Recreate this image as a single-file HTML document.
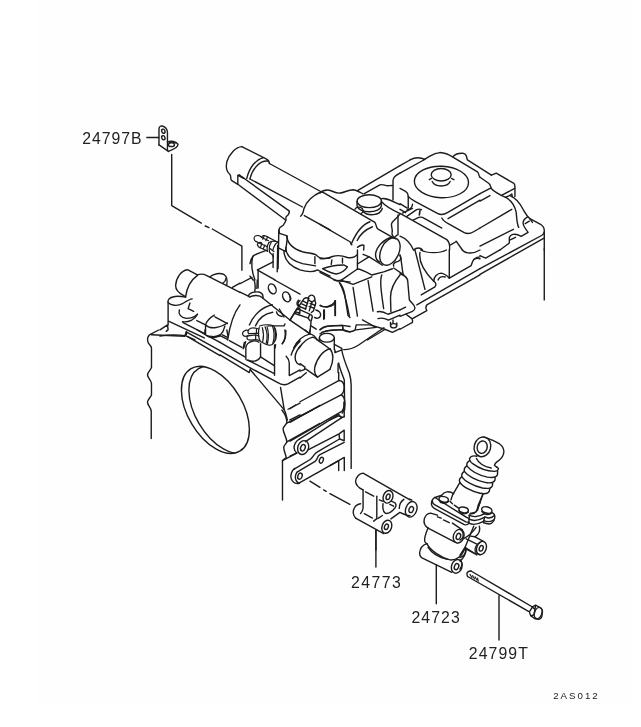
<!DOCTYPE html>
<html><head><meta charset="utf-8"><title>2AS012</title>
<style>
html,body{margin:0;padding:0;background:#fff;}
body{width:641px;height:727px;overflow:hidden;font-family:"Liberation Sans",sans-serif;}
svg{display:block;position:absolute;left:0;top:0;filter:grayscale(1);}
text{font-family:"Liberation Sans",sans-serif;stroke:none;}
</style></head><body>
<svg width="641" height="727" viewBox="0 0 641 727">
<rect x="0" y="0" width="641" height="727" fill="#ffffff"/>
<rect x="37" y="0" width="594" height="705" fill="#fefefe"/>
<g fill="none" stroke="#1c1c1c" stroke-linecap="round" stroke-linejoin="round">
<g transform="translate(140,115) scale(0.12480)" stroke-width="11.22">
<path d="M55,180 L150,180"/>
<path d="M152,240 L152,115 C152,85 175,82 195,95 C212,106 220,125 220,145 L220,285"/>
<path d="M152,240 L228,292"/>
<ellipse cx="187" cy="130" rx="13" ry="17" transform="rotate(-20 187 130)"/>
<ellipse cx="187" cy="182" rx="13" ry="17" transform="rotate(-20 187 182)"/>
<path d="M220,215 C250,205 290,210 305,235 C305,255 260,280 228,292"/>
<ellipse cx="252" cy="238" rx="24" ry="15"/>
<path d="M232,225 C245,215 270,215 282,225"/>


</g>
<g transform="translate(200,130) scale(0.12480)" stroke-width="11.22">
<path d="M335,133 C290,135 235,190 215,255 C205,300 215,335 238,355 C255,370 238,395 255,405 L303,435 L303,365 L318,360"/>
<path d="M335,133 L530,232 C545,240 556,255 556,268"/>
<path d="M505,222 C450,235 395,300 375,388"/>
<path d="M548,250 C480,240 420,310 400,392"/>
<path d="M305,363 L350,386" stroke-width="14"/>

</g>
<g transform="translate(248,228) scale(0.06238)" stroke-width="22.44">
<g stroke-width="19">
<path d="M218,152 C195,122 150,110 115,130 C88,150 92,195 125,215 L205,252"/>
<path d="M218,152 C228,122 262,110 288,130 L440,208"/>
<path d="M218,152 L330,205"/>
<path d="M262,125 L236,180 M312,148 L286,205"/>
<path d="M215,235 C185,225 158,240 150,265 C155,292 185,315 215,325 L285,358"/>
<path d="M205,252 L310,300"/>
<path d="M224,250 L198,315 M270,272 L244,338"/>
<path d="M335,235 C300,290 300,340 315,375"/>
<path d="M375,225 C335,290 335,350 350,395"/>
<path d="M335,235 C360,212 420,205 478,222"/>
<path d="M285,358 L315,375"/>
<path d="M350,395 L400,440 L405,470"/>
<path d="M440,258 L478,228"/>
<path d="M440,258 C420,290 405,320 400,350"/>
<path d="M352,330 L415,378"/>
</g>

</g>
<g transform="translate(250,190) scale(0.12480)" stroke-width="11.22">
<path d="M310,165 C318,172 318,182 305,200 C295,210 283,212 288,228 C294,245 280,255 275,268 C270,290 245,292 238,302 C230,312 232,330 235,345"/>
<path d="M560,20 C510,40 450,90 432,150 C428,175 420,200 405,210"/>
<path d="M435,205 L641,320"/>
<path d="M231,320 L225,630"/>
<path d="M222,445 L218,655"/>
<path d="M231,345 L298,368 C300,400 290,450 284,492 L231,465"/>
<path d="M295,372 C300,420 340,470 420,495 C480,510 520,505 540,530 C555,548 600,550 641,545"/>
<path d="M287,460 C285,520 330,565 420,590 L525,608"/>
<path d="M272,490 C275,560 320,610 400,640 C450,655 500,665 540,640 L641,690"/>
<path d="M520,535 L520,590"/>
<path d="M0,590 C5,560 15,540 30,525 C55,510 90,500 125,485"/>
<path d="M22,530 C10,580 12,650 40,721"/>
<path d="M60,640 L185,575"/>
<path d="M185,510 L185,620"/>
<path d="M60,640 L75,650 L200,721"/>
<path d="M0,690 L25,721"/>

</g>
<g transform="translate(320,160) scale(0.12480)" stroke-width="11.22">
<path d="M0,265 C15,250 45,238 75,242 C105,250 125,268 160,265 C195,262 225,238 265,238 C295,240 320,258 345,272"/>
<path d="M25,260 L440,500 C450,515 448,535 462,552 L585,622"/>
<path d="M0,515 L240,655 L255,680"/>
<path d="M400,495 C345,515 290,580 250,675"/>
<path d="M420,535 C360,560 320,600 298,645"/>
<ellipse cx="395" cy="330" rx="98" ry="52"/>
<path d="M297,335 L297,368 A98,52 0 0 0 492,368 L492,330"/>
<path d="M345,412 C380,450 480,450 499,388"/>
<path d="M280,395 C290,375 320,372 338,388 C350,405 345,420 330,428"/>
<path d="M300,245 L641,45"/>
<path d="M355,270 L480,200 C495,192 510,200 530,205 C550,208 565,203 582,205"/>
<path d="M641,105 C610,120 585,140 585,165 L585,320"/>
<path d="M495,310 C520,300 560,318 641,358"/>
<path d="M500,340 C520,370 570,395 641,430"/>
<path d="M641,430 C630,455 590,480 575,505 C565,530 585,555 578,580 C572,600 590,620 605,632"/>
<path d="M625,440 L625,600"/>
<path d="M300,700 C320,685 345,675 352,685 L350,721"/>

</g>
<g transform="translate(400,160) scale(0.12480)" stroke-width="11.22">
<ellipse cx="332" cy="176" rx="217" ry="126" transform="rotate(2 332 176)"/>
<ellipse cx="330" cy="118" rx="80" ry="50"/>
<path d="M258,172 C280,220 380,220 402,172"/>
<path d="M235,158 L252,148"/>
<path d="M412,148 L432,158"/>
<path d="M0,45 L80,0"/>
<path d="M0,105 L190,0"/>
<path d="M0,228 L45,252 C60,262 66,272 66,290 L66,385"/>
<path d="M66,292 C80,310 100,322 120,332 L300,428 C325,442 350,440 380,422 L641,270"/>
<path d="M0,350 L58,385"/>
<path d="M0,395 L45,422"/>
<path d="M55,402 C80,395 100,380 100,355"/>
<path d="M20,425 L100,388"/>
<path d="M55,452 L130,400 C145,392 160,392 172,398"/>
<path d="M160,405 L155,440" stroke-width="13"/>
<path d="M105,482 L150,460 C165,455 180,458 195,467 L335,545"/>
<path d="M0,428 L375,638 C395,655 402,680 397,721"/>
<path d="M335,465 C345,485 365,500 390,512 L515,582 C540,595 565,590 590,575 L641,545"/>
<path d="M385,470 L641,322"/>
<path d="M0,610 C40,625 85,670 108,721"/>
<path d="M405,680 L448,655"/>
<path d="M450,650 L500,721"/>
<path d="M110,721 C130,700 165,700 180,721"/>

</g>
<g transform="translate(480,160) scale(0.12480)" stroke-width="11.22">
<path d="M92,122 L130,105 L272,188 C280,195 280,205 280,215 L280,292"/>
<path d="M0,138 L72,188 C85,200 85,215 92,230 C100,245 130,262 170,284 L205,300"/>
<path d="M172,283 L278,228"/>
<path d="M0,270 L85,225"/>
<path d="M0,330 L80,285"/>
<path d="M205,298 C225,290 245,285 255,272 L258,292"/>
<path d="M210,302 C250,325 280,370 290,420 C295,470 295,510 310,540"/>
<path d="M240,285 C290,305 320,345 345,395 C365,430 380,455 400,470 L485,515 C505,528 515,545 515,565 L515,721"/>
<path d="M0,545 L255,395"/>
<path d="M0,690 L268,555"/>
<path d="M382,455 C355,470 340,495 348,520 C355,545 375,560 385,580 L330,612 C310,600 290,592 265,596 C245,602 232,620 235,640 L235,665 L160,721"/>
<path d="M362,510 L395,490"/>
<path d="M400,472 L420,500"/>
<path d="M242,640 L285,620"/>

</g>
<g transform="translate(360,130) scale(0.12480)" stroke-width="11.22">
<path d="M400,240 C440,218 485,218 520,235"/>
<path d="M510,240 L560,210 C590,192 615,183 641,181"/>

</g>
<g transform="translate(440,130) scale(0.12480)" stroke-width="11.22">
<path d="M0,180 C40,182 70,195 100,215 L300,335 C312,345 308,365 320,378"/>
<path d="M105,212 C120,195 150,185 180,186 C200,188 212,200 214,220 L220,240 L412,362"/>

</g>
<g transform="translate(320,250) scale(0.12480)" stroke-width="11.22">
<path d="M0,68 C30,75 60,70 100,52 C140,40 180,45 220,60 C250,65 285,55 300,35"/>
<path d="M300,0 L300,150"/>
<path d="M95,80 L90,115"/>
<path d="M180,65 L180,105"/>
<path d="M20,150 C60,135 120,122 190,120 L220,135 C200,165 170,185 130,192 C100,192 60,172 20,150 Z"/>
<path d="M0,180 L130,245 C150,250 165,245 180,235 L300,152"/>
<path d="M300,152 C330,152 370,175 415,200 L510,175 L580,150"/>
<path d="M300,112 L392,55"/>
<path d="M345,35 L395,55 L500,122"/>
<path d="M175,245 L265,275 L415,215"/>
<path d="M155,262 C185,310 215,420 235,530"/>
<path d="M265,300 L300,530"/>
<path d="M385,245 L425,490"/>
<path d="M495,200 C480,240 485,300 510,470"/>
<path d="M641,200 C590,260 565,320 565,380 L568,495"/>
<path d="M0,445 C40,465 90,455 115,420 L120,405 L120,525"/>
<path d="M35,480 L35,550"/>
<path d="M0,640 C30,615 60,608 100,606 L180,605 L185,640 C210,660 260,660 282,640 L290,600 L400,600 L520,635 L580,660 L641,630"/>
<path d="M0,672 C30,650 60,642 100,640 L182,640"/>
<path d="M288,640 L450,620"/>
<path d="M340,560 L440,615"/>
<path d="M380,721 L520,637"/>
<path d="M460,495 C490,488 520,500 545,515 L641,480"/>
<path d="M465,550 C495,540 525,550 548,562 L641,522"/>
<ellipse cx="590" cy="607" rx="25" ry="17"/>
<path d="M565,600 L565,580 M615,600 L615,585"/>
<path d="M585,560 L585,588"/>

</g>
<g transform="translate(400,250) scale(0.12480)" stroke-width="11.22">
<path d="M120,0 L200,315"/>
<path d="M160,20 C150,80 180,160 270,250"/>
<path d="M165,0 C220,28 320,28 372,0"/>
<path d="M395,0 L395,225"/>
<path d="M270,250 C270,215 300,185 330,185 C360,188 380,210 395,225"/>
<path d="M305,240 C315,215 340,210 362,216"/>
<path d="M270,250 C290,262 292,280 280,295 L170,360"/>
<path d="M395,225 L570,125 C580,100 580,85 595,72 C610,60 625,55 641,55"/>
<path d="M590,78 C610,65 625,65 641,70"/>
<path d="M500,0 C530,35 590,30 641,0"/>
<path d="M135,440 L641,150"/>
<path d="M100,550 L215,485 C205,470 205,455 215,440 L641,200"/>
<path d="M0,40 C8,55 10,70 10,90 L25,200"/>
<path d="M0,190 C30,200 60,215 62,250 L75,400 C90,425 120,440 120,465 C118,480 110,488 100,492 L0,532"/>
<path d="M0,480 L45,458"/>
<path d="M48,515 L95,550 C102,560 102,570 100,580 L0,635"/>

</g>
<g transform="translate(350,215) scale(0.12480)" stroke-width="11.22">
<ellipse cx="320" cy="293" rx="72" ry="116" transform="rotate(25 320 293)"/>
<path d="M332,178 C270,195 215,250 205,310 C203,340 215,365 238,378"/>
<path d="M350,410 C340,390 360,378 385,372 C405,365 412,350 400,322"/>
<path d="M350,425 L430,480"/>
<path d="M378,160 L350,185"/>

</g>
<g transform="translate(480,230) scale(0.12480)" stroke-width="11.22">
<path d="M515,150 L515,560"/>
<path d="M0,310 L497,42 C508,35 514,28 515,15"/>
<path d="M0,355 L513,65"/>
<path d="M160,160 L45,225 L0,205"/>

</g>
<g transform="translate(160,250) scale(0.12480)" stroke-width="11.22">
<path d="M300,200 L220,158 C170,165 130,220 125,285 C125,320 150,345 190,365 L205,375"/>
<path d="M300,203 C255,235 215,300 205,375"/>
<path d="M300,200 C320,192 350,192 375,205 L641,340"/>
<path d="M400,215 C430,190 480,180 515,198 C535,212 542,240 535,280"/>
<path d="M505,265 C520,255 528,240 530,225"/>
<path d="M580,300 L641,265"/>
<path d="M205,378 C160,368 100,368 72,392 C62,405 62,415 66,422 C85,445 140,452 180,430 C210,412 235,395 258,392"/>
<path d="M65,420 L65,600"/>
<path d="M240,425 L225,470 L270,492"/>
<path d="M155,480 C145,515 165,540 210,548 C250,548 280,535 300,515"/>
<path d="M180,575 C230,580 280,560 300,515"/>
<path d="M68,570 L355,705"/>
<path d="M185,582 L362,672"/>
<path d="M212,690 L280,721"/>
<path d="M295,565 L365,600 L365,680 C395,705 450,705 485,680 C505,660 515,630 520,610"/>
<path d="M365,600 C375,565 405,540 435,522"/>
<path d="M440,535 L540,590"/>
<path d="M365,600 C400,635 470,630 540,585"/>
<path d="M430,702 L480,690"/>
<path d="M641,440 C595,500 560,600 542,721"/>
<path d="M500,680 L540,700"/>
<path d="M0,640 L60,600 L65,638 L50,652"/>
<path d="M0,690 C60,680 140,678 200,686 L210,660"/>

</g>
<g transform="translate(240,318) scale(0.07837)" stroke-width="17.86">
<g stroke-width="15.5">
<path d="M110,160 C90,152 65,158 50,168 C30,182 28,205 40,220 C55,235 80,235 100,228"/>
<path d="M110,200 C100,185 102,160 115,145 C130,128 165,122 195,128 L240,140"/>
<path d="M110,200 L240,195"/>
<path d="M100,228 C85,240 85,262 100,275 C120,288 160,282 200,276 L248,286"/>
<path d="M100,228 L200,216 L242,230"/>
<path d="M210,135 L210,198 M200,217 L200,275"/>
<path d="M245,120 C230,180 235,250 258,298"/>
<path d="M285,122 C302,180 302,250 290,302"/>
<path d="M320,112 C350,180 350,260 335,322"/>
<path d="M250,102 C280,92 320,86 345,86 C380,86 410,90 425,98 C445,120 460,160 465,210 C465,250 455,285 440,305 C425,330 405,345 385,348 C350,345 300,325 260,300"/>
<path d="M345,110 C365,170 365,260 350,330"/>
<path d="M415,105 C440,170 440,250 420,322"/>
<path d="M440,120 C455,170 455,240 445,290"/>
</g>

</g>
<g transform="translate(240,280) scale(0.09361)" stroke-width="14.96">
<path d="M0,130 L95,175"/>
<path d="M90,172 C95,140 150,122 200,128 C235,135 250,160 245,195"/>
<path d="M100,182 C140,158 210,158 240,190"/>
<path d="M150,0 C165,40 165,80 158,122"/>
<path d="M185,0 L180,90"/>
<path d="M0,40 L128,-28"/>
<ellipse cx="345" cy="95" rx="38" ry="56" transform="rotate(-25 345 95)"/>
<ellipse cx="497" cy="180" rx="38" ry="56" transform="rotate(-25 497 180)"/>
<path d="M370,0 L641,150"/>
<path d="M245,195 L534,428"/>
<path d="M100,480 C140,380 230,290 345,265"/>
<path d="M165,490 C195,420 260,360 350,345"/>
<path d="M390,340 C395,365 420,385 450,390"/>
<path d="M420,310 L470,395"/>
<path d="M536,428 L600,320 L641,300"/>
<path d="M590,340 L641,352"/>
<path d="M641,220 C615,235 610,265 641,285"/>
<path d="M300,490 L470,490 L480,470"/>
<path d="M490,540 C492,600 480,650 450,682"/>
<path d="M575,726 C590,690 615,660 641,640"/>
<path d="M60,660 L40,726"/>
<path d="M380,690 L375,726"/>

</g>
<g transform="translate(290,280) scale(0.09361)" stroke-width="14.96">
<path d="M195,205 C195,175 215,160 235,162 C258,168 268,190 265,218"/>
<path d="M75,310 L150,200 C165,188 185,188 200,200 L195,215 L235,235 L265,215 L275,250 L250,330 L228,348"/>
<path d="M140,225 L188,250 M125,255 L178,280 M105,285 L168,310 M215,250 L268,270 M205,282 L258,302"/>
<path d="M200,200 L165,312"/>
<path d="M235,235 L205,330"/>
<path d="M75,310 L0,426"/>
<path d="M75,310 L110,320 L210,365 C230,372 240,380 238,395 L225,440 L212,572"/>
<path d="M45,355 L190,405 L215,435"/>
<path d="M110,322 L95,368 M210,370 L195,405"/>
<path d="M0,428 L215,575"/>
<path d="M90,215 C72,235 72,258 85,275"/>
<path d="M275,320 C310,325 335,355 325,385 C315,410 285,415 262,400"/>
<path d="M0,180 L8,200 L0,215" stroke-width="18"/>
<path d="M325,270 C360,295 430,295 470,262 C482,250 486,235 485,220 L485,380"/>
<path d="M360,320 L360,420"/>
<path d="M530,30 C560,60 575,100 585,160 L620,380 L641,400"/>
<path d="M470,0 C520,12 580,15 641,20"/>
<path d="M225,490 L280,525"/>
<path d="M320,530 C340,510 360,498 390,494 L560,485 L641,497"/>
<path d="M340,560 C380,545 440,535 560,530 C590,535 615,548 641,556"/>
<path d="M562,490 L565,530"/>
<path d="M40,726 C80,640 150,590 215,575 C250,585 275,610 290,640"/>
<path d="M100,726 C135,665 190,622 245,610 C262,615 280,628 300,645 L427,737"/>

</g>
<g transform="translate(140,330) scale(0.12480)" stroke-width="11.22">
<path d="M150,0 L75,40 C60,55 58,80 65,100 C72,120 92,125 92,145 L92,300 C85,320 62,335 60,360 C62,385 90,400 92,430 L92,520 C85,540 62,555 60,580 C62,605 88,620 90,650 L90,870"/>
<path d="M90,38 L360,50 C372,42 376,28 372,12"/>
<path d="M370,15 L641,165"/>
<path d="M385,55 L641,205"/>
<path d="M460,0 L520,35 L520,0"/>
<path d="M540,45 L641,100"/>
<path d="M560,50 C590,58 615,52 641,40"/>

</g>
<g transform="translate(0,0) scale(1.00000)" stroke-width="1.40">
<clipPath id="cpE"><ellipse cx="215.4" cy="409.9" rx="47.9" ry="27.5" transform="rotate(59.4 215.4 409.9)"/></clipPath>
<ellipse cx="215.4" cy="409.9" rx="47.9" ry="27.5" transform="rotate(59.4 215.4 409.9)"/>
<g clip-path="url(#cpE)"><ellipse cx="222.9" cy="409.9" rx="47.9" ry="27.5" transform="rotate(59.4 222.9 409.9)"/></g>

</g>
<g transform="translate(220,330) scale(0.12480)" stroke-width="11.22">
<path d="M0,45 L60,75"/>
<path d="M75,85 L175,140"/>
<path d="M55,0 L65,55"/>
<path d="M0,100 L200,215"/>
<path d="M0,165 L235,300"/>
<path d="M0,200 L232,340"/>
<path d="M195,100 L185,150"/>
<path d="M207,235 L207,150 C205,120 230,95 265,88 C285,86 300,90 312,98"/>
<path d="M325,110 L325,215 C310,240 280,252 255,250 L215,240"/>
<path d="M226,243 L436,349"/>
<path d="M325,215 L435,285"/>
<path d="M437,120 L437,362"/>
<path d="M245,305 L235,340"/>
<path d="M245,320 L515,640 C525,660 532,690 540,721"/>
<path d="M245,305 L460,420 C490,440 515,445 545,432 L641,378"/>
<path d="M485,460 L515,640"/>
<path d="M545,635 L641,585"/>
<path d="M560,721 L641,680"/>
<path d="M530,210 C545,225 555,245 555,265 L555,365 L641,320"/>
<path d="M641,90 C600,130 580,165 570,200"/>
<path d="M641,130 C610,170 595,215 605,245 C612,265 625,275 641,280"/>
<path d="M520,0 C528,40 520,80 500,110"/>

</g>
<g transform="translate(300,330) scale(0.12480)" stroke-width="11.22">
<ellipse cx="215" cy="62" rx="60" ry="35"/>
<path d="M155,65 L155,92"/>
<path d="M275,65 L275,158"/>
<path d="M240,150 C190,160 135,225 118,300 C112,335 122,360 140,377"/>
<path d="M240,150 C270,185 272,250 240,315"/>
<path d="M140,377 L240,315"/>
<path d="M275,115 L335,148 L335,160 L280,182 L280,160"/>
<path d="M0,270 L40,298 L35,318 L0,330"/>
<path d="M0,385 L50,342"/>
<path d="M45,312 L140,377"/>
<path d="M335,160 C340,200 365,270 395,345 C405,380 410,410 410,440 L410,1109"/>
<path d="M310,265 C315,300 340,360 355,400 L358,640"/>
<path d="M305,270 L305,340"/>
<path d="M310,340 L310,402"/>
<path d="M672,-18 L470,120 C430,145 395,158 350,157"/>
<path d="M0,575 L310,405 C335,405 352,425 354,455 C355,485 345,508 330,520"/>
<path d="M0,690 L330,520 C350,530 360,560 360,590 C358,625 350,650 338,665"/>
<path d="M240,721 L310,688 L340,700"/>
<path d="M40,0 L75,30 L80,0"/>

</g>
<g transform="translate(290,405) scale(0.09361)" stroke-width="14.96">
<path d="M0,40 L60,0"/>
<path d="M0,185 L320,5"/>
<path d="M0,385 L553,68 C572,50 579,25 579,-30"/>
<path d="M100,365 L520,101 L549,138 L579,123"/>
<path d="M165,392 L549,138"/>
<path d="M579,-30 L579,126"/>
<path d="M198,478 L524,309 L579,269 L579,382 L529,361 L524,309"/>
<ellipse cx="140" cy="455" rx="57" ry="76" transform="rotate(20 140 455)"/>
<ellipse cx="138" cy="457" rx="24" ry="36" transform="rotate(20 138 457)"/>
<path d="M72,512 C42,490 35,445 55,410 C65,390 80,375 100,365"/>
<path d="M0,545 L72,512"/>
<path d="M45,685 L215,582 C235,570 245,550 260,530 C270,515 285,505 302,495 L529,363"/>
<path d="M75,717 L268,602 C285,590 292,570 300,548 C305,540 312,535 320,530 L579,400"/>
<ellipse cx="335" cy="590" rx="20" ry="32" transform="rotate(20 335 590)"/>
<path d="M295,723 L580,560 L580,700"/>
<path d="M520,598 L520,700"/>

</g>
<g transform="translate(270,410) scale(0.12480)" stroke-width="11.22">
<path d="M95,0 C115,25 135,60 135,100 C125,125 105,135 105,150 C105,185 132,215 135,255 C128,275 110,285 110,300 C112,335 128,360 130,380 L100,405 L100,721"/>
<path d="M135,105 L340,0"/>
<path d="M135,255 L400,108"/>
<path d="M100,405 L215,345"/>
<path d="M320,570 L400,620 M430,640 L450,652 M480,670 L640,757"/>
<path d="M198,468 C175,485 160,520 170,550 C180,575 200,590 225,590 L377,504"/>
<path d="M215,500 C203,520 200,545 208,562 C215,578 225,585 235,588"/>
<ellipse cx="240" cy="530" rx="17" ry="25" transform="rotate(20 240 530)"/>

</g>
<g transform="translate(330,460) scale(0.12480)" stroke-width="11.22">
<path d="M0,45 L70,5"/>


<path d="M265,240 C235,225 205,205 205,170 C208,135 235,108 265,105 L500,240 L641,320"/>
<ellipse cx="465" cy="295" rx="38" ry="52" transform="rotate(20 465 295)"/>
<ellipse cx="465" cy="295" rx="15" ry="23" transform="rotate(20 465 295)"/>
<path d="M205,465 C185,445 180,410 195,385 C205,365 222,352 245,350"/>
<path d="M205,465 L430,590"/>
<ellipse cx="455" cy="535" rx="38" ry="54" transform="rotate(20 455 535)"/>
<ellipse cx="452" cy="535" rx="15" ry="23" transform="rotate(20 452 535)"/>
<path d="M265,240 L265,380 C265,400 258,415 245,428"/>
<path d="M375,290 L375,470"/>
<path d="M285,255 L350,290"/>
<path d="M275,430 L340,465"/>
<path d="M395,320 L425,332"/>
<path d="M385,468 L420,445"/>
<path d="M375,470 L350,490"/>
<path d="M425,350 C420,390 425,415 445,428 C470,432 500,410 520,385 C535,365 530,345 510,338 L490,330"/>
<path d="M480,355 L510,370"/>
<path d="M555,388 C555,360 570,330 592,315"/>
<path d="M488,472 L560,420 C580,430 610,445 641,447"/>
<path d="M368,565 L368,721"/>

</g>
<g transform="translate(400,480) scale(0.12480)" stroke-width="11.22">
<path d="M78,153 L95,162"/>
<ellipse cx="90" cy="235" rx="44" ry="64" transform="rotate(20 90 235)"/>
<ellipse cx="90" cy="237" rx="17" ry="25" transform="rotate(20 90 237)"/>
<!-- tube -->
<!-- plate -->
<path d="M430,110 C415,98 395,93 375,95 C355,98 345,105 335,122 L280,140 C262,150 252,170 252,195 C255,212 262,222 275,228 L515,358 C530,362 545,355 552,345"/>
<path d="M280,140 L530,298 C538,303 545,306 552,306"/>
<path d="M258,165 C258,180 265,192 280,200 L528,335 C538,338 545,338 552,336"/>
<ellipse cx="350" cy="155" rx="38" ry="22" transform="rotate(12 350 155)"/>
<path d="M313,160 C320,185 360,198 388,172"/>
<ellipse cx="510" cy="240" rx="38" ry="22" transform="rotate(12 510 240)"/>
<path d="M473,245 C480,270 520,283 548,257"/>
<path d="M400,170 L420,190 M435,202 L470,225"/>
<path d="M560,272 L595,266 M608,255 L622,238"/>
<path d="M641,180 L622,228"/>
<!-- upper horiz cylinder -->
<path d="M225,385 C200,370 188,340 195,310 C203,285 220,268 245,265 L300,282"/>
<path d="M420,345 L500,400"/>
<path d="M225,385 L440,497"/>
<ellipse cx="470" cy="450" rx="42" ry="56" transform="rotate(20 470 450)"/>
<ellipse cx="468" cy="452" rx="17" ry="25" transform="rotate(20 468 452)"/>
<path d="M300,295 L330,306 M348,320 L395,342"/>
<!-- body -->
<path d="M225,385 C205,430 195,470 198,490 C200,500 205,505 215,510"/>
<path d="M510,470 C550,450 585,415 610,380"/>
<!-- lower cylinder -->
<path d="M215,510 C185,520 160,550 157,585 C157,605 162,615 172,622 L415,740"/>
<path d="M225,540 C250,580 310,620 378,636"/>
<path d="M215,510 C240,560 320,620 400,640 C450,645 500,610 520,545"/>
<ellipse cx="455" cy="692" rx="42" ry="56" transform="rotate(20 455 692)"/>
<ellipse cx="453" cy="694" rx="17" ry="25" transform="rotate(20 453 694)"/>
<path d="M641,500 C612,515 598,545 603,570 C608,588 622,596 641,597"/>
<path d="M530,472 L612,512"/>
<path d="M520,548 L600,590"/>
<path d="M480,622 C510,612 528,590 530,560"/>

</g>
<g transform="translate(440,420) scale(0.12480)" stroke-width="11.22">
<ellipse cx="340" cy="215" rx="66" ry="80" transform="rotate(15 340 215)"/>
<ellipse cx="338" cy="218" rx="40" ry="50" transform="rotate(15 338 218)"/>
<path d="M350,137 C375,140 395,150 420,162 L478,192 C500,208 512,230 512,255 C510,285 495,308 470,325 C450,338 435,350 437,365 L455,378"/>
<path d="M295,290 C270,285 245,290 237,308 C235,325 245,340 265,352 C310,385 380,410 435,412 C455,412 470,400 468,388 L455,378"/>
<path d="M292,308 C310,345 360,375 410,385"/>
<path d="M237,325 C220,335 212,350 215,368 C240,400 300,440 380,458 C420,465 450,462 460,440 L462,412"/>
<path d="M215,368 C198,378 192,395 195,412 C220,448 290,485 360,500 C400,508 430,505 440,482 L442,462"/>
<path d="M195,412 C178,422 172,440 175,455 C200,492 270,530 340,545 C380,552 410,550 420,526 L422,505"/>
<path d="M175,455 C158,465 152,482 158,498 C180,535 250,572 320,587 C355,594 385,592 395,570 L400,550"/>
<path d="M160,500 L100,602 L88,640"/>
<path d="M345,592 L300,721"/>

</g>
<g transform="translate(460,490) scale(0.12480)" stroke-width="11.22">
<path d="M185,30 L145,125 C140,150 138,165 125,178 C112,186 100,186 85,185"/>
<ellipse cx="215" cy="160" rx="42" ry="25" transform="rotate(15 215 160)"/>
<path d="M175,172 C190,200 235,205 256,182"/>
<path d="M255,180 C275,190 282,205 278,225 C272,250 255,268 235,272 C215,272 200,268 190,262"/>
<path d="M200,215 C225,228 255,225 276,205"/>
<path d="M190,245 C220,258 250,255 272,238"/>
<path d="M72,202 C100,218 150,218 198,190"/>
<path d="M70,232 C100,248 150,246 195,220"/>
<path d="M70,266 C100,280 145,276 188,252"/>
<path d="M75,202 L70,268"/>
<path d="M197,218 L188,262"/>
<path d="M110,290 L40,460 L0,522"/>
<path d="M155,290 C165,325 150,355 120,375 L85,370"/>
<path d="M120,375 L188,412"/>
<ellipse cx="172" cy="465" rx="38" ry="55" transform="rotate(20 172 465)"/>
<ellipse cx="170" cy="467" rx="15" ry="23" transform="rotate(20 170 467)"/>
<path d="M40,460 L135,520"/>
<path d="M0,315 C20,325 28,345 25,370 C20,390 12,398 0,402"/>
<path d="M45,470 C48,510 30,545 0,570"/>
<path d="M0,560 C18,575 20,605 0,635"/>

</g>
<g transform="translate(0,0) scale(1.00000)" stroke-width="1.40">
<path d="M436.3,565 L436.3,603.8"/>
<path d="M375.9,530.5 L375.9,567"/>
<path d="M471,571 L532.5,607"/>
<path d="M467.6,576.5 L528.5,611.3"/>
<path d="M471,571 C468.5,570.8 466.8,572.5 466.9,574 C467,575.3 467.3,576 467.6,576.5"/>
<path d="M470,574.4 L471.9,577.5 M472.5,575.6 L474.4,578.8 M475,576.9 L476.9,580 M477.5,578.1 L478.3,581.2" stroke-width="1.1"/>
<path d="M532.5,606.9 L535.6,605.2 L540,607.5 C541.8,608.6 542.6,610 542.5,611.5 L541.9,616.2 C541.5,618 540.3,619.2 538.7,619.4 L535,618.8 L530.6,615.6 L529.4,611.9 Z"/>
<ellipse cx="538.2" cy="613" rx="3.6" ry="5.8" transform="rotate(20 538.2 613)"/>
<path d="M532.5,607.2 L535,609.4 L533.8,615 L531,615.6 M535.6,605.4 L535,609.4"/>
<path d="M499,595.6 L499,640"/>

</g>
<g transform="translate(0,0) scale(1.00000)" stroke-width="1.40">
<path d="M269.4,163.5 L322.5,192.5"/>
<path d="M250,179 L302.5,207"/>
<path d="M239.7,175.2 L288.7,210.6"/>
<path d="M237.8,184.3 L285.6,220"/>
<path d="M171.7,154.4 L171.7,205.6 L201.3,223.1"/>
<path d="M212.3,229 L241.9,246.2 L241.9,270.3"/>
<path d="M205.2,226 L209,227.6"/>
<path d="M258.1,270.8 L258.1,288"/>

</g>
</g>
<g font-size="15.8px" fill="#222">
<text x="82.2" y="143.8" letter-spacing="1.0">24797B</text>
<text x="350.9" y="587.6" letter-spacing="1.5">24773</text>
<text x="411.4" y="622.6" letter-spacing="1.1">24723</text>
<text x="468.8" y="659" letter-spacing="1.1">24799T</text>
</g>
<g><text x="553.2" y="699.2" font-size="9.7px" letter-spacing="2.0" fill="#222">2AS012</text></g>

</svg>
</body></html>
